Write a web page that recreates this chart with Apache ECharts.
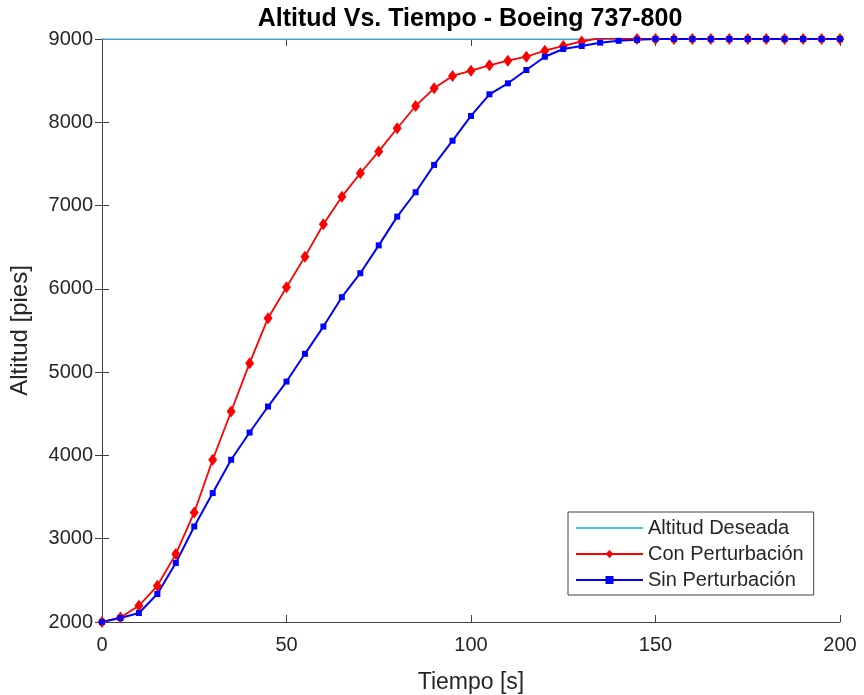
<!DOCTYPE html>
<html>
<head>
<meta charset="utf-8">
<script src="https://cdn.jsdelivr.net/npm/echarts@6/dist/echarts.min.js"></script>
<style>html,body{margin:0;padding:0;background:#fff}#c{width:864px;height:695px}</style>
</head>
<body>
<div id="c"></div>
<script>
const titleText = 'Altitud Vs. Tiempo - Boeing 737-800';
const xName = 'Tiempo [s]';
const yName = 'Altitud [pies]';
const seriesNames = ['Altitud Deseada', 'Con Perturbación', 'Sin Perturbación'];
const xTicks = [0, 50, 100, 150, 200];
const yTicks = [2000, 3000, 4000, 5000, 6000, 7000, 8000, 9000];

const time = [0, 5, 10, 15, 20, 25, 30, 35, 40, 45, 50, 55, 60, 65, 70, 75, 80, 85, 90, 95,
  100, 105, 110, 115, 120, 125, 130, 135, 140, 145, 150, 155, 160, 165, 170, 175, 180, 185, 190, 195, 200];
const desiredTime = [0, 200];
const desired = [9000, 9000];
const conPert = [2000, 2055, 2195, 2435, 2815, 3315, 3948, 4527, 5108, 5648, 6020, 6387, 6776, 7107, 7388, 7650,
  7928, 8196, 8408, 8556, 8619, 8684, 8739, 8787, 8860, 8916, 8970, 9012, 9005, 9000,
  9000, 9000, 9000, 9000, 9000, 9000, 9000, 9000, 9000, 9000, 9000];
const sinPert = [2000, 2048, 2108, 2336, 2708, 3147, 3548, 3948, 4275, 4587, 4887, 5220, 5547, 5900, 6188, 6522,
  6867, 7160, 7488, 7779, 8076, 8336, 8468, 8628, 8787, 8880, 8916, 8956, 8978, 8990,
  9000, 9000, 9000, 9000, 9000, 9000, 9000, 9000, 9000, 9000, 9000];

const FONT = '"Liberation Sans", Arial, Helvetica, sans-serif';
const AX = '#404040';
const TXT = '#262626';

const pairs = (xs, ys) => xs.map((x, i) => [x, ys[i]]);

const chart = echarts.init(document.getElementById('c'), null, {renderer: 'canvas'});
const baseAxis = {
  axisLine: {show: true, lineStyle: {color: AX, width: 1}},
  axisTick: {show: true, inside: true, length: 7, lineStyle: {color: AX}},
  splitLine: {show: false}
};
chart.setOption({
  animation: false,
  backgroundColor: '#fff',
  textStyle: {fontFamily: FONT},
  graphic: [{
    type: 'text', x: 470, y: 19,
    style: {text: titleText, fontFamily: FONT, fontWeight: 'bold', fontSize: 25, fill: '#000',
      textAlign: 'center', textVerticalAlign: 'middle'}
  }],
  grid: {left: 102, top: 39, right: 24, bottom: 73, outerBoundsMode: 'none', containLabel: false},
  xAxis: [
    Object.assign({}, baseAxis, {
      type: 'value', position: 'bottom', min: xTicks[0], max: xTicks[xTicks.length - 1], interval: 50,
      axisLabel: {color: TXT, fontSize: 20, fontFamily: FONT, margin: 13, formatter: v => String(v)},
      name: xName, nameLocation: 'middle', nameGap: 49,
      nameTextStyle: {color: TXT, fontSize: 23, fontFamily: FONT}
    }),
    Object.assign({}, baseAxis, {
      type: 'value', position: 'top', min: xTicks[0], max: xTicks[xTicks.length - 1], interval: 50,
      axisLabel: {show: false}
    })
  ],
  yAxis: [
    Object.assign({}, baseAxis, {
      type: 'value', position: 'left', min: yTicks[0], max: yTicks[yTicks.length - 1], interval: 1000,
      axisLabel: {color: TXT, fontSize: 20, fontFamily: FONT, margin: 9, formatter: v => String(v)},
      name: yName, nameLocation: 'middle', nameGap: 70, nameRotate: 90,
      nameTextStyle: {color: TXT, fontSize: 24, fontFamily: FONT}
    }),
    Object.assign({}, baseAxis, {
      type: 'value', position: 'right', min: yTicks[0], max: yTicks[yTicks.length - 1], interval: 1000,
      axisLabel: {show: false}
    })
  ],
  legend: {
    orient: 'vertical', left: 568, top: 512,
    backgroundColor: '#fff', borderColor: AX, borderWidth: 1, borderRadius: 0,
    padding: [6, 10, 5, 7], itemGap: 6, itemWidth: 67, itemHeight: 10,
    textStyle: {color: TXT, fontSize: 20, fontFamily: FONT},
    data: [
      {name: seriesNames[0], itemStyle: {opacity: 0}},
      {name: seriesNames[1]},
      {name: seriesNames[2]}
    ]
  },
  series: [
    {
      name: seriesNames[0], type: 'line', data: pairs(desiredTime, desired),
      symbol: 'none', lineStyle: {color: '#4DBEEE', width: 1.5}, itemStyle: {color: '#4DBEEE'}
    },
    {
      name: seriesNames[1], type: 'line', data: pairs(time, conPert),
      symbol: 'diamond', symbolSize: [9, 12], showAllSymbol: true,
      lineStyle: {color: '#ff0000', width: 1.8}, itemStyle: {color: '#ff0000'}
    },
    {
      name: seriesNames[2], type: 'line', data: pairs(time, sinPert),
      symbol: 'rect', symbolSize: 6, showAllSymbol: true,
      lineStyle: {color: '#0000ff', width: 2}, itemStyle: {color: '#0000ff'}
    }
  ]
});
</script>
</body>
</html>
